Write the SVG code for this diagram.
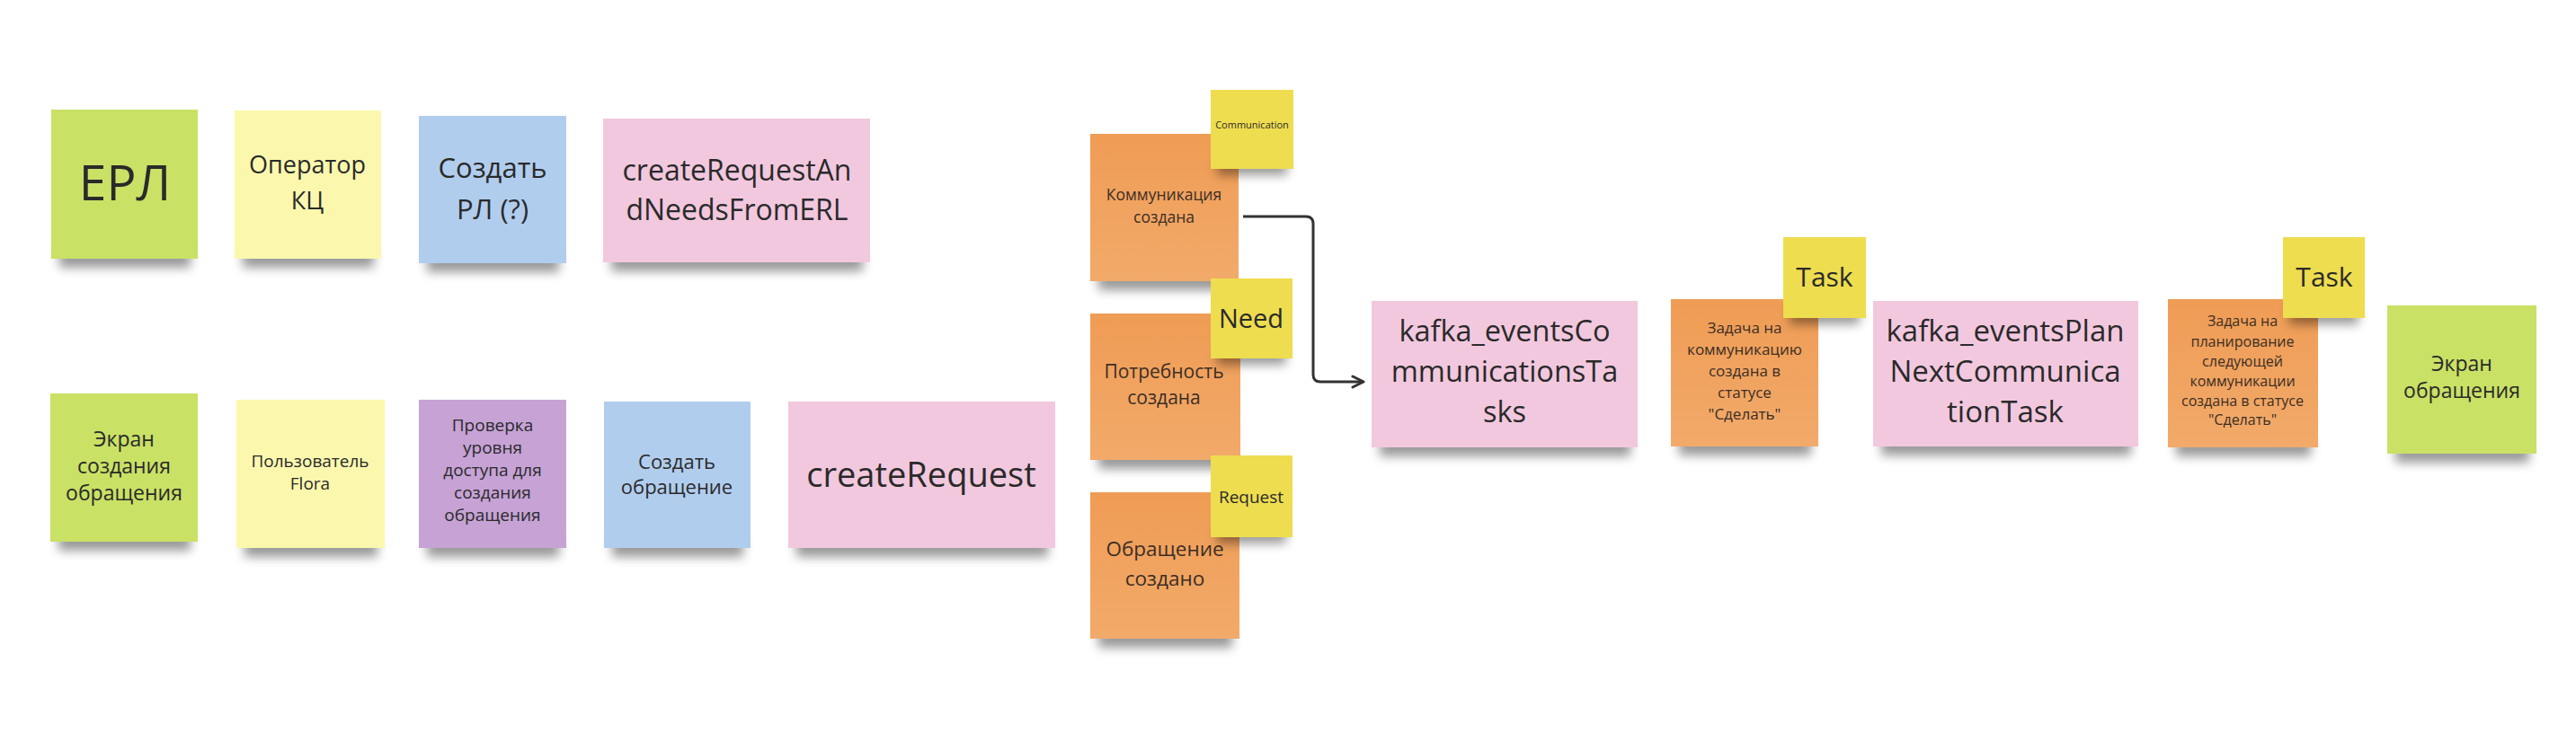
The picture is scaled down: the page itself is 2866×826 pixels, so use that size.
<svg xmlns="http://www.w3.org/2000/svg" width="2866" height="826" viewBox="0 0 2866 826">
<defs>
<style>
.bg{fill:#ffffff}
.sh{fill:#000;opacity:.4;filter:url(#blur)}
.green{fill:#c9e165}
.lyel{fill:#fbf8ae}
.blue{fill:#b1cdee}
.pink{fill:#f2c8de}
.purple{fill:#c6a2d5}
.orange{fill:#f0a25e}
.tag{fill:#eedd4f}
text{font-family:"Open Sans","Noto Sans","DejaVu Sans",sans-serif;fill:#2a2a2a;text-anchor:middle}
.ot{fill:#3b2e25}
.conn{fill:none;stroke:#333;stroke-width:3;stroke-linejoin:round}
</style>
<filter id="blur" x="-30%" y="-150%" width="160%" height="400%"><feGaussianBlur stdDeviation="6"/></filter>
<linearGradient id="og" x1="0" y1="0" x2="0" y2="1"><stop offset="0" stop-color="#ef9c55"/><stop offset="1" stop-color="#f2aa6a"/></linearGradient>
<marker id="arr" viewBox="0 0 16 16" refX="14" refY="8" markerWidth="16" markerHeight="16" markerUnits="userSpaceOnUse" orient="auto"><path d="M2,2 L14,8 L2,14" fill="none" stroke="#333" stroke-width="3" stroke-linecap="round" stroke-linejoin="round"/></marker>
</defs>
<rect class="bg" x="0" y="0" width="2866" height="826"/>

<g id="connectors">
<path class="conn" d="M1383,241 H1453 Q1461,241 1461,249 V417 Q1461,425 1469,425 H1517" marker-end="url(#arr)"/>
</g>

<g id="n-erl"><rect class="sh" x="66" y="276" width="146" height="22"/><rect class="green" x="57" y="122" width="163" height="166"/><text x="139" y="223" font-size="55">ЕРЛ</text></g>
<g id="n-operator"><rect class="sh" x="270" y="276" width="146" height="22"/><rect class="lyel" x="261" y="123" width="163" height="165"/><text x="342" y="193" font-size="27">Оператор</text><text x="342" y="233" font-size="27">КЦ</text></g>
<g id="n-create-rl"><rect class="sh" x="475" y="281" width="147" height="22"/><rect class="blue" x="466" y="129" width="164" height="164"/><text x="548" y="198" font-size="31">Создать</text><text x="548" y="244" font-size="31">РЛ (?)</text></g>
<g id="n-createRequestAndNeeds"><rect class="sh" x="680" y="280" width="280" height="22"/><rect class="pink" x="671" y="132" width="297" height="160"/><text x="820" y="201" font-size="32">createRequestAn</text><text x="820" y="245" font-size="32">dNeedsFromERL</text></g>

<g id="n-screen-create"><rect class="sh" x="65" y="591" width="147" height="22"/><rect class="green" x="56" y="438" width="164" height="165"/><text x="138" y="497" font-size="23">Экран</text><text x="138" y="527" font-size="23">создания</text><text x="138" y="557" font-size="23">обращения</text></g>
<g id="n-user-flora"><rect class="sh" x="272" y="598" width="148" height="22"/><rect class="lyel" x="263" y="445" width="165" height="165"/><text x="345" y="520" font-size="19">Пользователь</text><text x="345" y="545" font-size="19">Flora</text></g>
<g id="n-access-check"><rect class="sh" x="475" y="598" width="147" height="22"/><rect class="purple" x="466" y="445" width="164" height="165"/><text x="548" y="480" font-size="19">Проверка</text><text x="548" y="505" font-size="19">уровня</text><text x="548" y="530" font-size="19">доступа для</text><text x="548" y="555" font-size="19">создания</text><text x="548" y="580" font-size="19">обращения</text></g>
<g id="n-create-request-cmd"><rect class="sh" x="681" y="598" width="146" height="22"/><rect class="blue" x="672" y="447" width="163" height="163"/><text x="753" y="522" font-size="22">Создать</text><text x="753" y="550" font-size="22">обращение</text></g>
<g id="n-createRequest"><rect class="sh" x="886" y="598" width="280" height="22"/><rect class="pink" x="877" y="447" width="297" height="163"/><text x="1025" y="542" font-size="38">createRequest</text></g>

<g id="n-comm-created"><rect class="sh" x="1222" y="301" width="148" height="22"/><rect fill="url(#og)" x="1213" y="149" width="165" height="164"/><text class="ot" x="1295" y="223" font-size="17.5">Коммуникация</text><text class="ot" x="1295" y="248" font-size="17.5">создана</text></g>
<g id="t-communication"><rect class="sh" x="1354" y="177" width="78" height="18"/><rect class="tag" x="1347" y="100" width="92" height="88"/><text x="1393" y="143" font-size="11">Communication</text></g>
<g id="n-need-created"><rect class="sh" x="1222" y="500" width="150" height="22"/><rect fill="url(#og)" x="1213" y="349" width="167" height="163"/><text class="ot" x="1295" y="421" font-size="21">Потребность</text><text class="ot" x="1295" y="450" font-size="21">создана</text></g>
<g id="t-need"><rect class="sh" x="1354" y="388" width="77" height="18"/><rect class="tag" x="1347" y="310" width="91" height="89"/><text x="1392" y="365" font-size="29">Need</text></g>
<g id="n-request-created"><rect class="sh" x="1222" y="699" width="149" height="22"/><rect fill="url(#og)" x="1213" y="548" width="166" height="163"/><text class="ot" x="1296" y="619" font-size="22.5">Обращение</text><text class="ot" x="1296" y="652" font-size="22.5">создано</text></g>
<g id="t-request"><rect class="sh" x="1354" y="587" width="77" height="18"/><rect class="tag" x="1347" y="507" width="91" height="91"/><text x="1392" y="560" font-size="19">Request</text></g>

<g id="n-kafka-comm-tasks"><rect class="sh" x="1535" y="486" width="279" height="22"/><rect class="pink" x="1526" y="335" width="296" height="163"/><text x="1674" y="380" font-size="32.5">kafka_eventsCo</text><text x="1674" y="425" font-size="32.5">mmunicationsTa</text><text x="1674" y="470" font-size="32.5">sks</text></g>
<g id="n-task-comm"><rect class="sh" x="1868" y="485" width="147" height="22"/><rect fill="url(#og)" x="1859" y="333" width="164" height="164"/><text class="ot" x="1941" y="371" font-size="17">Задача на</text><text class="ot" x="1941" y="395" font-size="17">коммуникацию</text><text class="ot" x="1941" y="419" font-size="17">создана в</text><text class="ot" x="1941" y="443" font-size="17">статусе</text><text class="ot" x="1941" y="467" font-size="17">"Сделать"</text></g>
<g id="t-task-1"><rect class="sh" x="1991" y="343" width="78" height="18"/><rect class="tag" x="1984" y="264" width="92" height="90"/><text x="2030" y="319" font-size="30">Task</text></g>
<g id="n-kafka-plan-next"><rect class="sh" x="2093" y="485" width="278" height="22"/><rect class="pink" x="2084" y="335" width="295" height="162"/><text x="2231" y="380" font-size="33">kafka_eventsPlan</text><text x="2231" y="425" font-size="33">NextCommunica</text><text x="2231" y="470" font-size="33">tionTask</text></g>
<g id="n-task-plan"><rect class="sh" x="2421" y="486" width="150" height="22"/><rect fill="url(#og)" x="2412" y="333" width="167" height="165"/><text class="ot" x="2495" y="363" font-size="16">Задача на</text><text class="ot" x="2495" y="386" font-size="16">планирование</text><text class="ot" x="2495" y="408" font-size="16">следующей</text><text class="ot" x="2495" y="430" font-size="16">коммуникации</text><text class="ot" x="2495" y="452" font-size="16">создана в статусе</text><text class="ot" x="2495" y="473" font-size="16">"Сделать"</text></g>
<g id="t-task-2"><rect class="sh" x="2547" y="343" width="77" height="18"/><rect class="tag" x="2540" y="264" width="91" height="90"/><text x="2586" y="319" font-size="30">Task</text></g>
<g id="n-screen-request"><rect class="sh" x="2665" y="493" width="149" height="22"/><rect class="green" x="2656" y="340" width="166" height="165"/><text x="2739" y="413" font-size="23">Экран</text><text x="2739" y="443" font-size="23">обращения</text></g>
</svg>
